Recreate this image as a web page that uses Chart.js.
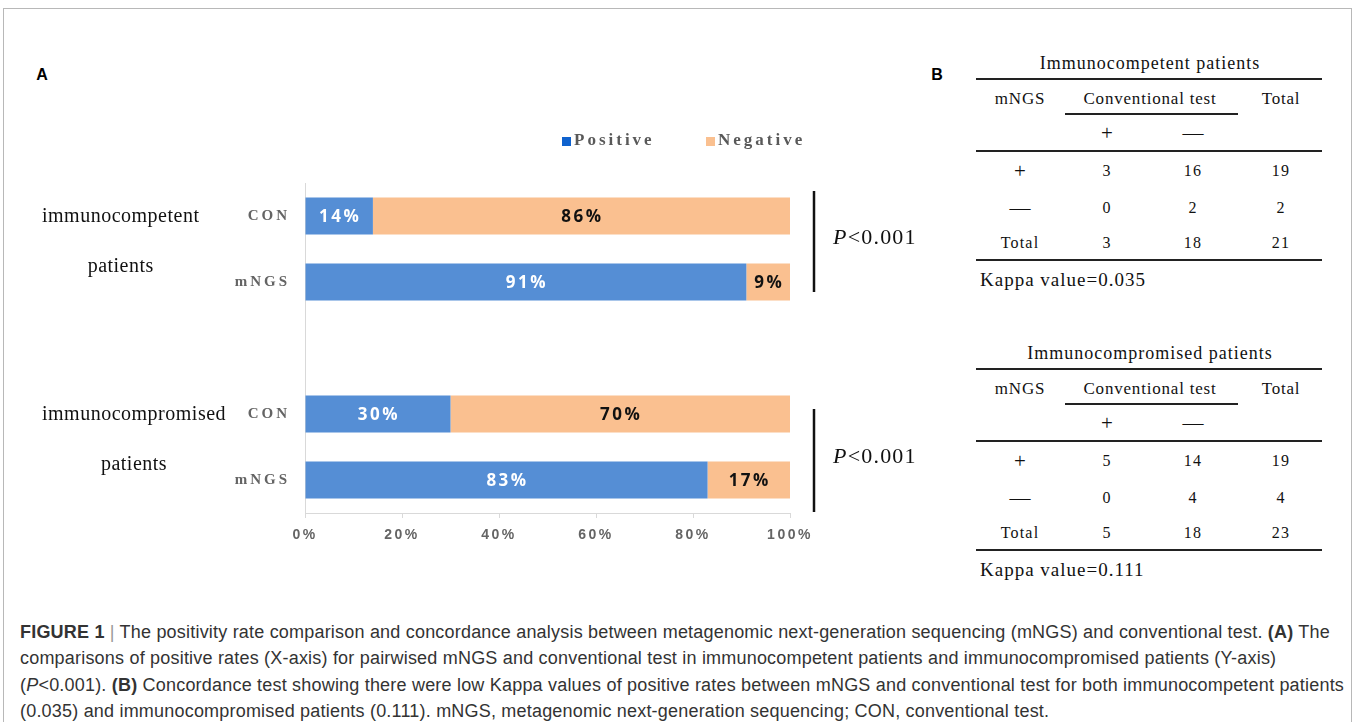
<!DOCTYPE html>
<html>
<head>
<meta charset="utf-8">
<script src="https://cdn.jsdelivr.net/npm/chart.js@4/dist/chart.umd.min.js"></script>
<style>
  html, body { margin: 0; padding: 0; background: #fff; }
  body { width: 1355px; height: 722px; position: relative; overflow: hidden; }
  #frame { position: absolute; left: 3px; top: 8px; width: 1349px; height: 730px; border: 1px solid #b8b8b8; box-sizing: border-box; }
  #chartWrap { position: absolute; left: 0; top: 0; width: 930px; height: 580px; }
  .panel { position: absolute; font: bold 16px "Liberation Sans", Arial, sans-serif; color: #000; transform: translate(-50%, -50%); }
  .tt { position: absolute; white-space: nowrap; font-family: "Liberation Serif", "Times New Roman", serif; color: #111; transform: translate(-50%, -50%); }
  .tt.left { transform: translate(0, -50%); }
  .tt.title { font-size: 18px; letter-spacing: 1px; }
  .tt.head { font-size: 17px; letter-spacing: 0.8px; }
  .tt.sign { font-size: 21px; }
  .tt.cell { font-size: 16px; letter-spacing: 1.2px; }
  .tt.kappa { font-size: 19px; letter-spacing: 1px; }
  .rule { position: absolute; background: #222; }
  #caption { position: absolute; left: 20px; top: 619px; font-family: "Liberation Sans", Arial, sans-serif; font-size: 18px; letter-spacing: 0.2px; line-height: 26.3px; color: #333; white-space: nowrap; }
  #caption .bar { color: #999; }
</style>
</head>
<body>
<div id="frame"></div>
<div class="panel" style="left:42px; top:75px;">A</div>
<div class="panel" style="left:937px; top:75px;">B</div>
<div id="chartWrap"><canvas id="rateChart" width="930" height="580"></canvas></div>
<div id="tables"></div>
<div id="caption">
  <b>FIGURE 1</b> <span class="bar">|</span> The positivity rate comparison and concordance analysis between metagenomic next-generation sequencing (mNGS) and conventional test. <b>(A)</b> The<br>
  comparisons of positive rates (X-axis) for pairwised mNGS and conventional test in immunocompetent patients and immunocompromised patients (Y-axis)<br>
  (<i>P</i>&lt;0.001). <b>(B)</b> Concordance test showing there were low Kappa values of positive rates between mNGS and conventional test for both immunocompetent patients<br>
  (0.035) and immunocompromised patients (0.111). mNGS, metagenomic next-generation sequencing; CON, conventional test.
</div>
<script>
// positive rate (%) per group, CON then mNGS
const groups = ['immunocompetent', 'immunocompromised'];
const tests = ['CON', 'mNGS'];
const positiveRate = [14, 91, 30, 83];
const negativeRate = [86, 9, 70, 17];
const pValues = ['<0.001', '<0.001'];

// 2x2 concordance tables
const tableTitles = ['Immunocompetent patients', 'Immunocompromised patients'];
const rowLabels = ['+', '—', 'Total'];
const colLabels = ['+', '—'];
const competentCounts = [[3, 16, 19], [0, 2, 2], [3, 18, 21]];
const compromisedCounts = [[5, 14, 19], [0, 4, 4], [5, 18, 23]];
const kappaValues = ['0.035', '0.111'];

const BLUE = '#558ED5';
const ORANGE = '#FAC090';

// labels with an empty slot between the two groups
const labels = [];
const posData = [];
const negData = [];
groups.forEach((g, gi) => {
  if (gi > 0) { labels.push(''); posData.push(null); negData.push(null); }
  tests.forEach((t, ti) => {
    labels.push(t);
    posData.push(positiveRate[gi * tests.length + ti]);
    negData.push(negativeRate[gi * tests.length + ti]);
  });
});

function spacedLabels(scale, spacing) {
  if (scale._spaced) return;
  const orig = scale.drawLabels;
  scale.drawLabels = function (area) {
    const c = this.ctx;
    c.save();
    c.letterSpacing = spacing;
    orig.call(this, area);
    c.restore();
  };
  scale._spaced = true;
}

const valueLabels = {
  id: 'valueLabels',
  afterDatasetsDraw(chart) {
    const c = chart.ctx;
    c.save();
    c.letterSpacing = '2.5px';
    c.font = 'bold 17px "Open Sans", "Liberation Sans", sans-serif';
    c.textAlign = 'center';
    c.textBaseline = 'middle';
    chart.data.datasets.forEach((ds, di) => {
      chart.getDatasetMeta(di).data.forEach((bar, i) => {
        const v = ds.data[i];
        if (v == null) return;
        c.fillStyle = di === 0 ? '#fff' : '#111';
        c.fillText(v + '%', (bar.base + bar.x) / 2 + 1, bar.y + 1);
      });
    });
    c.restore();
  }
};

const annotations = {
  id: 'annotations',
  afterLayout(chart) {
    spacedLabels(chart.scales.x, '2.5px');
    spacedLabels(chart.scales.y, '3px');
  },
  afterDraw(chart) {
    const c = chart.ctx;
    const y = chart.scales.y;
    c.save();

    // legend
    c.font = 'bold 17px "Liberation Serif", serif';
    c.letterSpacing = '3px';
    c.textBaseline = 'middle';
    c.textAlign = 'left';
    const legendX = [562, 706];
    chart.data.datasets.forEach((ds, i) => {
      c.fillStyle = i === 0 ? '#0F62CE' : ds.backgroundColor;
      c.fillRect(legendX[i], 137, 9, 9);
      c.fillStyle = '#595959';
      c.fillText(ds.label, legendX[i] + 12, 141);
    });

    // group names, brackets and p-values
    const bracketTop = [-25, -5];
    const bracketBottom = [10, 32];
    groups.forEach((g, gi) => {
      const first = gi * (tests.length + 1);
      const yTop = y.getPixelForValue(first);
      const yBot = y.getPixelForValue(first + tests.length - 1);
      const mid = (yTop + yBot) / 2;

      c.font = '20px "Liberation Serif", serif';
      c.letterSpacing = '0.5px';
      c.fillStyle = '#111';
      c.textAlign = 'left';
      const w = c.measureText(g).width;
      c.fillText(g, 42, mid - 32);
      c.textAlign = 'center';
      c.fillText('patients', 42 + w / 2, mid + 18);

      c.strokeStyle = '#111';
      c.lineWidth = 2.5;
      c.beginPath();
      c.moveTo(814, yTop + bracketTop[gi]);
      c.lineTo(814, yBot + bracketBottom[gi]);
      c.stroke();

      const pY = (yTop + bracketTop[gi] + yBot + bracketBottom[gi]) / 2 - 3;
      c.textAlign = 'left';
      c.letterSpacing = '1.2px';
      c.font = 'italic 22px "Liberation Serif", serif';
      c.fillText('P', 833, pY);
      const pw = c.measureText('P').width;
      c.font = '22px "Liberation Serif", serif';
      c.fillText(pValues[gi], 833 + pw, pY);
    });
    c.restore();
  }
};

new Chart(document.getElementById('rateChart'), {
  type: 'bar',
  data: {
    labels: labels,
    datasets: [
      { label: 'Positive', data: posData, backgroundColor: BLUE },
      { label: 'Negative', data: negData, backgroundColor: ORANGE }
    ]
  },
  options: {
    indexAxis: 'y',
    responsive: false,
    animation: false,
    layout: { padding: { top: 183, right: 140, bottom: 27, left: 0 } },
    datasets: { bar: { categoryPercentage: 1, barPercentage: 0.56 } },
    plugins: { legend: { display: false }, tooltip: { enabled: false } },
    scales: {
      x: {
        stacked: true, min: 0, max: 100,
        ticks: { stepSize: 20, callback: v => v + '%', color: '#646464', padding: 9,
                 font: { family: '"Liberation Sans", sans-serif', weight: 'bold', size: 14 } },
        grid: { drawOnChartArea: false, tickLength: 5, color: '#d9d9d9' },
        border: { color: '#d9d9d9' },
        afterFit: s => { s.height = 40; }
      },
      y: {
        stacked: true,
        ticks: { color: '#646464', padding: 7,
                 font: { family: '"Liberation Serif", serif', weight: 'bold', size: 15 } },
        grid: { display: false },
        border: { color: '#d9d9d9' },
        afterFit: s => { s.width = 305; }
      }
    }
  },
  plugins: [valueLabels, annotations]
});

// concordance tables
const host = document.getElementById('tables');
const colX = [1020, 1107, 1193, 1281];
const rowY = [171, 208, 243];

function addText(text, x, y, cls) {
  const d = document.createElement('div');
  d.className = 'tt ' + cls;
  d.style.left = x + 'px';
  d.style.top = y + 'px';
  d.textContent = text;
  host.appendChild(d);
}
function addRule(x1, x2, y, h) {
  const d = document.createElement('div');
  d.className = 'rule';
  d.style.left = x1 + 'px';
  d.style.width = (x2 - x1) + 'px';
  d.style.top = (y - h / 2) + 'px';
  d.style.height = h + 'px';
  host.appendChild(d);
}
function drawTable(title, counts, kappa, top) {
  addText(title, 1150, top + 63, 'title');
  addRule(976, 1322, top + 79, 2);
  addText('mNGS', colX[0], top + 99, 'head');
  addText('Conventional test', 1150, top + 99, 'head');
  addText('Total', colX[3], top + 99, 'head');
  addRule(1065, 1238, top + 114, 1.5);
  colLabels.forEach((t, i) => addText(t, colX[i + 1], top + 133, 'sign'));
  addRule(976, 1322, top + 151, 1.5);
  counts.forEach((row, r) => {
    addText(rowLabels[r], colX[0], top + rowY[r], r === 2 ? 'cell' : 'sign');
    row.forEach((v, ci) => addText(String(v), colX[ci + 1], top + rowY[r], 'cell'));
  });
  addRule(976, 1322, top + 260, 2);
  addText('Kappa value=' + kappa, 980, top + 280, 'kappa left');
}
drawTable(tableTitles[0], competentCounts, kappaValues[0], 0);
drawTable(tableTitles[1], compromisedCounts, kappaValues[1], 290);
</script>
</body>
</html>
